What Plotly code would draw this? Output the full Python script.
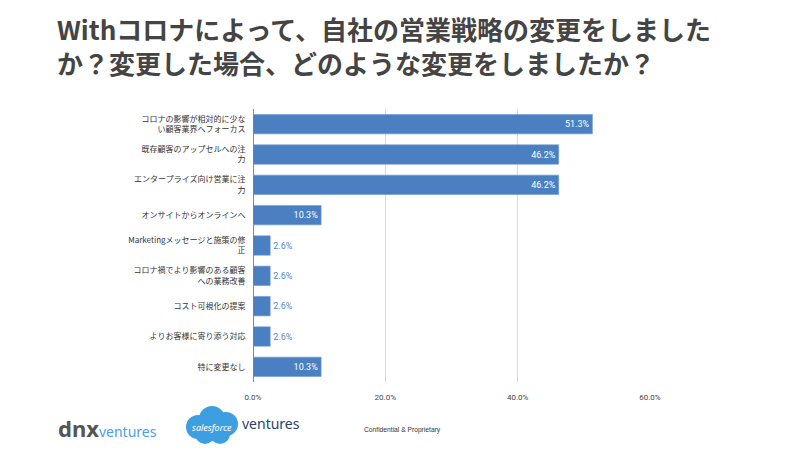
import plotly.graph_objects as go

categories = [
    "コロナの影響が相対的に少な<br>い顧客業界へフォーカス",
    "既存顧客のアップセルへの注<br>力",
    "エンタープライズ向け営業に注<br>力",
    "オンサイトからオンラインへ",
    "Marketingメッセージと施策の修<br>正",
    "コロナ禍でより影響のある顧客<br>への業務改善",
    "コスト可視化の提案",
    "よりお客様に寄り添う対応",
    "特に変更なし",
]
values = [51.3, 46.2, 46.2, 10.3, 2.6, 2.6, 2.6, 2.6, 10.3]
labels = ["51.3%", "46.2%", "46.2%", "10.3%", "2.6%", "2.6%", "2.6%", "2.6%", "10.3%"]
x_ticks = [0, 20, 40, 60]
x_tick_text = ["0.0%", "20.0%", "40.0%", "60.0%"]
title_lines = ["Withコロナによって、自社の営業戦略の変更をしました",
               "か？変更した場合、どのような変更をしましたか？"]

W, H = 800, 450
L, R, T, B = 253, 150, 109, 68
PW, PH = W - L - R, H - T - B

def px(x):
    return (x - L) / PW

def py(y):
    return (H - B - y) / PH

positions = ["inside" if v >= 10 else "outside" for v in values]
text_colors = ["#ffffff" if v >= 10 else "#4f86c6" for v in values]

fig = go.Figure(go.Bar(
    x=values, y=categories, orientation="h",
    marker=dict(color="#4a7fc1", line=dict(color="#6f9bd3", width=0.6)),
    text=labels, textposition=positions, insidetextanchor="end",
    textfont=dict(size=9, color=text_colors, family="Roboto"),
    cliponaxis=False,
))

fig.update_layout(
    width=W, height=H,
    margin=dict(l=L, r=R, t=T, b=B, pad=0),
    paper_bgcolor="white", plot_bgcolor="white",
    bargap=0.36, showlegend=False,
    font=dict(family="Noto Sans CJK JP", color="#333"),
    xaxis=dict(range=[0, 60], tickvals=x_ticks, ticktext=x_tick_text,
               showgrid=True, gridcolor="#dcdcdc", gridwidth=1,
               zeroline=True, zerolinecolor="#888", zerolinewidth=1,
               tickfont=dict(size=8, color="#444", family="Roboto"),
               ticks="outside", ticklen=7, tickcolor="rgba(0,0,0,0)", fixedrange=True),
    yaxis=dict(autorange="reversed", tickfont=dict(size=8, color="#333"),
               ticks="outside", ticklen=5, tickcolor="rgba(0,0,0,0)",
               showgrid=False, zeroline=False, fixedrange=True),
)

annotations = [
    dict(text="<b>" + "<br>".join(title_lines) + "</b>", x=px(55), y=py(46),
         xanchor="left", yanchor="middle", align="left",
         font=dict(size=26, color="#444", family="Noto Sans CJK JP")),
    dict(text="<b>dnx</b><span style='color:#4aa0e6;font-size:14px'>ventures</span>",
         x=px(56), y=py(428), xanchor="left", yanchor="middle",
         font=dict(size=22, color="#555", family="Noto Sans")),
    dict(text="<i>salesforce</i>", x=px(212), y=py(427), xanchor="center", yanchor="middle",
         font=dict(size=9, color="white", family="Noto Sans")),
    dict(text="ventures", x=px(240), y=py(423), xanchor="left", yanchor="middle",
         font=dict(size=14, color="#2b3f6b", family="Noto Sans")),
    dict(text="Confidential &amp; Proprietary", x=px(362), y=py(430), xanchor="left", yanchor="middle",
         font=dict(size=6.7, color="#333", family="Liberation Sans")),
]
for a in annotations:
    a.update(xref="paper", yref="paper", showarrow=False)
fig.update_layout(annotations=annotations)

cloud = [(198, 427, 12), (212, 419, 13), (226, 424, 12), (205, 434, 10), (220, 434, 10), (213, 430, 11)]
shapes = []
for cx, cy, r in cloud:
    shapes.append(dict(type="circle", xref="paper", yref="paper",
                       x0=px(cx - r), x1=px(cx + r), y0=py(cy + r), y1=py(cy - r),
                       fillcolor="#3d9fe0", line=dict(width=0), layer="below"))
fig.update_layout(shapes=shapes)

fig.write_html("out.html", config={"displayModeBar": False},
               post_script="document.body.style.margin='0';")
